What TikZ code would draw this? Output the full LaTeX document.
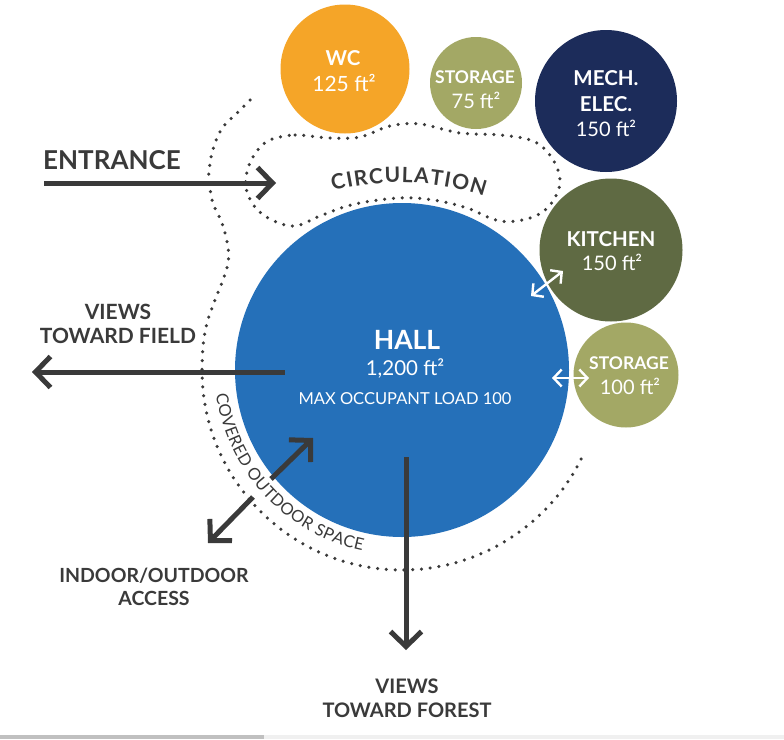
\documentclass[tikz,border=0pt]{standalone}
\usepackage{fontspec}
\setmainfont{Lato}
\usetikzlibrary{arrows.meta,decorations.text}
\definecolor{ink}{RGB}{58,58,58}
\definecolor{hallblue}{RGB}{37,112,185}
\definecolor{wcorange}{RGB}{245,165,40}
\definecolor{storolive}{RGB}{163,168,101}
\definecolor{mechnavy}{RGB}{28,44,90}
\definecolor{kitgreen}{RGB}{95,106,67}
\definecolor{banddark}{RGB}{192,192,192}
\definecolor{bandlight}{RGB}{240,240,240}
\tikzset{
 dotline/.style={draw=ink, line width=3.5pt, line cap=round, dash pattern=on 0pt off 8.8pt},
 room/.style={circle, inner sep=0pt, draw=none},
 bigarrow/.style={draw=ink, line width=5pt, -{Straight Barb[length=15pt,width=31pt,sharp]}},
 whitearrow/.style={draw=white, line width=2.4pt, {Straight Barb[length=8pt,width=17pt]}-{Straight Barb[length=8pt,width=17pt]}},
 lbl/.style={text=ink, font=\bfseries\fontsize{21}{24}\selectfont, align=center, inner sep=0pt},
 rname/.style={text=white, font=\bfseries\fontsize{20.5}{24}\selectfont, inner sep=0pt},
 rsmall/.style={text=white, font=\bfseries\fontsize{17.5}{20}\selectfont, inner sep=0pt},
 rarea/.style={text=white, font=\fontsize{21}{24}\selectfont, inner sep=0pt},
}
\begin{document}
\begin{tikzpicture}[x=1pt,y=-1pt]
\useasboundingbox (0,0) rectangle (784,739);
\fill[white] (0,0) rectangle (784,739);
\fill[banddark] (0,735) rectangle (264,739);
\fill[bandlight] (264,735) rectangle (784,739);
% dotted outlines
\draw[dotline] plot[smooth, tension=0.6] coordinates {(250,100) (237,113) (223,127) (215,143) (210,163) (209,180) (213,203) (222,223) (228,247) (228,263) (223,280) (215,300) (207,323) (203,347) (202,370)} arc[start angle=180, end angle=24, radius=200];
\draw[dotline] plot[smooth cycle, tension=0.6] coordinates {(270,140) (295,135) (330,138) (360,137) (390,126) (420,124) (460,133) (500,135) (533,141) (552,158) (560,182) (550,205) (530,218) (500,221) (467,208) (433,200) (400,198) (355,204) (320,216) (295,226) (272,220) (255,207) (246,188) (248,168) (257,151)};
% rooms
\node[room, fill=hallblue, minimum size=334pt] (hall) at (402,370) {};
\node[room, fill=wcorange, minimum size=129pt] (wc) at (345,69) {};
\node[room, fill=storolive, minimum size=92pt] (st1) at (476,83) {};
\node[room, fill=mechnavy, minimum size=142pt] (mech) at (606,101) {};
\node[room, fill=kitgreen, minimum size=143pt] (kit) at (611,250) {};
\node[room, fill=storolive, minimum size=105pt] (st2) at (626,375) {};
% room texts
\node[rname] (wcn) at (343,58) {WC};
\node[rarea] (wca) at (344,83) {125 ft²};
\node[rsmall] (st1n) at (475,77) {STORAGE};
\node[rarea, font=\fontsize{20}{24}\selectfont] (st1a) at (476,100) {75 ft²};
\node[rname] (mechn) at (606,78) {MECH.};
\node[rname] (meche) at (606,104) {ELEC.};
\node[rarea, font=\fontsize{20}{24}\selectfont] (mecha) at (606,128) {150 ft²};
\node[rname] (kitn) at (611,239) {KITCHEN};
\node[rarea, font=\fontsize{20}{24}\selectfont] (kita) at (612,262) {150 ft²};
\node[rsmall] (st2n) at (629,363) {STORAGE};
\node[rarea, font=\fontsize{20}{24}\selectfont] (st2a) at (630,386) {100 ft²};
\node[rname, font=\bfseries\fontsize{26.5}{28}\selectfont] (halln) at (407,340) {HALL};
\node[rarea, font=\fontsize{20.5}{24}\selectfont] (halla) at (405,368) {1,200 ft²};
\node[rarea, font=\fontsize{16.5}{18}\selectfont] (hallm) at (405,399) {MAX OCCUPANT LOAD 100};
% curved labels
\path[decorate, decoration={text along path, text align=fit to path, text color=ink, text={|\bfseries\fontsize{21}{20}\selectfont|CIRCULATION}}] (333,191) .. controls (378,179) and (432,179) .. (484,196);
\path[decorate, decoration={text along path, text align=fit to path, text color=ink, text={|\fontsize{16.5}{16}\selectfont|COVERED OUTDOOR SPACE}}] (216,394) arc[start angle=172, end angle=102, radius=187];
% arrow end points
\coordinate (entS) at (44,183);
\coordinate (entE) at (276,183);
\coordinate (fldS) at (285,372);
\coordinate (fldE) at (32,372);
\coordinate (forS) at (406,457);
\coordinate (forE) at (406,650);
\coordinate (ioA) at (271,479);
\coordinate (ioUp) at (313,438);
\coordinate (ioB) at (253,497);
\coordinate (ioDn) at (208,543);
\coordinate (kA) at (531,296);
\coordinate (kB) at (563,271);
\coordinate (sA) at (552,378);
\coordinate (sB) at (589,378);
\draw[bigarrow] (entS) -- (entE);
\draw[bigarrow] (fldS) -- (fldE);
\draw[bigarrow] (forS) -- (forE);
\draw[bigarrow] (ioA) -- (ioUp);
\draw[bigarrow] (ioB) -- (ioDn);
\draw[whitearrow] (kA) -- (kB);
\draw[whitearrow] (sA) -- (sB);
% outside labels
\node[lbl, anchor=west, font=\bfseries\fontsize{26}{28}\selectfont] (entl) at (43,160) {ENTRANCE};
\node[lbl] (fldl) at (118,324) {VIEWS\\TOWARD FIELD};
\node[lbl, font=\bfseries\fontsize{19.5}{23}\selectfont] (iol) at (154,587) {INDOOR/OUTDOOR\\ACCESS};
\node[lbl, font=\bfseries\fontsize{20}{24}\selectfont] (forl) at (407,698) {VIEWS\\TOWARD FOREST};
\end{tikzpicture}
\end{document}
